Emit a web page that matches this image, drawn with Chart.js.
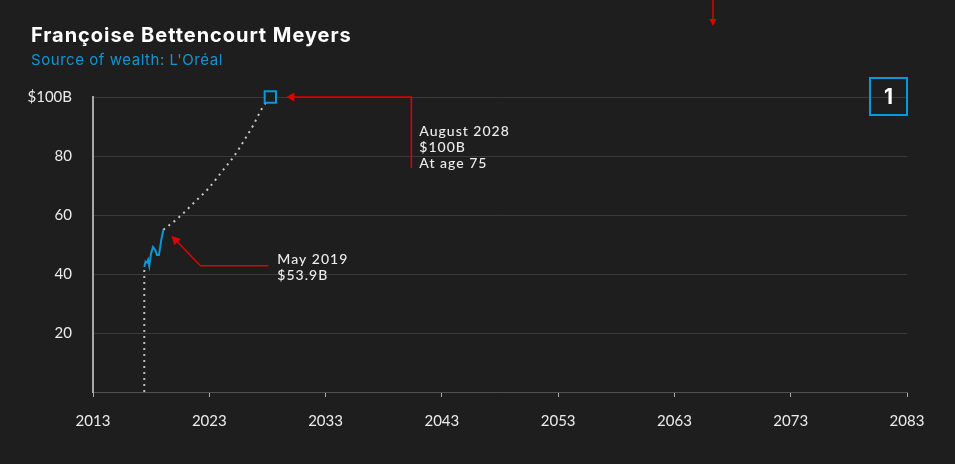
<!DOCTYPE html>
<html>
<head>
<meta charset="utf-8">
<script src="https://cdn.jsdelivr.net/npm/chart.js@4.4.1/dist/chart.umd.min.js"></script>
<style>
  body { margin: 0; background: #1e1e1e; }
  #wrap { position: relative; width: 955px; height: 464px; }
  #title { position: absolute; left: 31px; top: 23px; color: #fff; font: 700 20px Inter, sans-serif; letter-spacing: 0.95px; }
  #sub { position: absolute; left: 31px; top: 50px; color: #1394d3; font: 400 15px Inter, sans-serif; letter-spacing: 0.55px; }
  #rank { position: absolute; left: 869px; top: 77px; width: 35px; height: 35px; border: 2px solid #0b97d8;
          color: #fff; font: 700 21px Inter, sans-serif; text-align: center; line-height: 35px; }
</style>
</head>
<body>
<div id="wrap">
  <canvas id="chart"></canvas>
  <div id="title">Françoise Bettencourt Meyers</div>
  <div id="sub">Source of wealth: L'Oréal</div>
  <div id="rank">1</div>
</div>
<script>
// axis
const xTicks = [2013, 2023, 2033, 2043, 2053, 2063, 2073, 2083];
const yTicks = [0, 20, 40, 60, 80, 100];

// wealth history (billions USD)
const histYears = [2017.41, 2017.52, 2017.64, 2017.73, 2017.84, 2017.99, 2018.16, 2018.36, 2018.50, 2018.67, 2018.87, 2019.05];
const histWealth = [42.4, 44.2, 43.9, 44.8, 42.7, 47.0, 49.2, 48.1, 46.4, 46.4, 51.5, 55.0];

// projection to $100B
const projYears = [2019.05, 2020.39, 2021.64, 2022.93, 2024.08, 2025.14, 2026.11, 2026.79, 2027.37, 2027.65, 2028.25];
const projWealth = [55.0, 59.2, 64.0, 69.0, 74.7, 80.0, 86.0, 90.5, 95.0, 96.9, 100];

// target
const targetYear = 2028.25;
const targetWealth = 100;

const startYear = histYears[0];
const startWealth = histWealth[0];

const RED = '#e00000';
const BLUE = '#0b97d8';

function arrowHead(ctx, x, y, angle, len, half) {
    ctx.save();
    ctx.translate(x, y);
    ctx.rotate(angle);
    ctx.beginPath();
    ctx.moveTo(0, 0);
    ctx.lineTo(-len, -half);
    ctx.lineTo(-len, half);
    ctx.closePath();
    ctx.fill();
    ctx.restore();
}

const annotations = {
    id: 'annotations',
    afterDatasetsDraw(chart) {
        const { ctx, scales: { x, y } } = chart;
        ctx.save();
        ctx.strokeStyle = RED;
        ctx.fillStyle = RED;
        ctx.lineWidth = 1.5;

        // arrow to the $100B square
        const sx = x.getPixelForValue(targetYear);
        const sy = y.getPixelForValue(targetWealth);
        ctx.beginPath();
        ctx.moveTo(sx + 22, sy);
        ctx.lineTo(sx + 141, sy);
        ctx.lineTo(sx + 141, sy + 71);
        ctx.stroke();
        arrowHead(ctx, sx + 16, sy, Math.PI, 8, 4.5);

        // arrow to the May 2019 point
        const px = x.getPixelForValue(histYears[histYears.length - 1]);
        const py = y.getPixelForValue(histWealth[histWealth.length - 1]);
        ctx.beginPath();
        ctx.moveTo(px + 105, py + 36);
        ctx.lineTo(px + 37, py + 36);
        ctx.lineTo(px + 13, py + 11);
        ctx.stroke();
        arrowHead(ctx, px + 8, py + 6, Math.atan2(-30, -29), 9, 4.5);

        // arrow from above
        ctx.beginPath();
        ctx.moveTo(713, 0);
        ctx.lineTo(713, 20);
        ctx.stroke();
        arrowHead(ctx, 713, 26, Math.PI / 2, 7, 3.5);

        // labels
        ctx.fillStyle = '#ececec';
        ctx.font = '500 14px Lato, sans-serif';
        ctx.letterSpacing = '1px';
        ctx.textBaseline = 'alphabetic';
        ctx.textAlign = 'left';
        ctx.fillText('August 2028', sx + 149, sy + 39);
        ctx.fillText('$100B', sx + 149, sy + 55);
        ctx.fillText('At age 75', sx + 149, sy + 71);
        ctx.fillText('May 2019', px + 114, py + 34);
        ctx.fillText('$53.9B', px + 114, py + 50);
        ctx.restore();
    }
};

new Chart(document.getElementById('chart'), {
    type: 'line',
    data: {
        datasets: [
            {
                data: [{ x: startYear, y: 0 }, { x: startYear, y: startWealth }],
                borderColor: '#bdbdbd',
                borderWidth: 2,
                borderDash: [2, 4],
                pointRadius: 0,
                order: 3
            },
            {
                data: histYears.map((v, i) => ({ x: v, y: histWealth[i] })),
                borderColor: BLUE,
                borderWidth: 2,
                pointRadius: 0,
                tension: 0,
                order: 2
            },
            {
                data: projYears.map((v, i) => ({ x: v, y: projWealth[i] })),
                borderColor: '#c8c8c8',
                borderWidth: 2,
                borderDash: [2, 4.5],
                pointRadius: 0,
                cubicInterpolationMode: 'monotone',
                order: 4
            },
            {
                data: [{ x: targetYear, y: targetWealth }],
                showLine: false,
                clip: false,
                pointStyle: 'rect',
                pointRadius: 8,
                pointBorderWidth: 2,
                pointBorderColor: BLUE,
                pointBackgroundColor: '#1e1e1e',
                order: 0
            }
        ]
    },
    options: {
        responsive: true,
        maintainAspectRatio: false,
        animation: false,
        layout: { padding: { top: 97, right: 48, left: 0, bottom: 0 } },
        plugins: { legend: { display: false }, tooltip: { enabled: false } },
        scales: {
            x: {
                type: 'linear',
                min: xTicks[0],
                max: xTicks[xTicks.length - 1],
                afterFit: s => { s.height = 72; },
                afterBuildTicks: s => { s.ticks = xTicks.map(v => ({ value: v })); },
                grid: { drawOnChartArea: false, drawTicks: true, tickLength: 5, color: '#b0b0b0' },
                border: { color: '#505050', width: 1 },
                ticks: {
                    color: '#ececec',
                    padding: 15,
                    font: { family: 'Lato', size: 15 },
                    callback: v => String(v),
                    maxRotation: 0
                }
            },
            y: {
                min: 0,
                max: 100,
                afterFit: s => { s.width = 93; },
                afterBuildTicks: s => { s.ticks = yTicks.map(v => ({ value: v })); },
                grid: { drawTicks: false, color: '#3a3a3a', lineWidth: 1 },
                border: { color: '#a8a8a8', width: 2 },
                ticks: {
                    color: '#ececec',
                    padding: 21,
                    font: { family: 'Lato', size: 15 },
                    callback: v => v === 0 ? '' : (v === 100 ? '$100B' : String(v))
                }
            }
        }
    },
    plugins: [annotations]
});
</script>
</body>
</html>
